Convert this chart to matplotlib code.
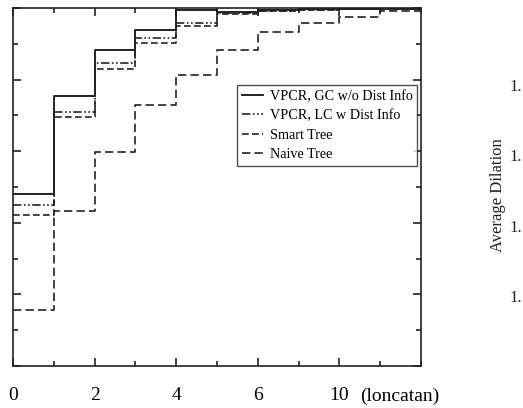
import matplotlib
matplotlib.use("Agg")
import matplotlib.pyplot as plt
import numpy as np

plt.rcParams['font.family'] = ['Liberation Serif', 'DejaVu Serif']

# cumulative fraction per jump count (value holds on [x, x+1))
steps = np.arange(0, 11)
vpcr_gc = [0.480, 0.755, 0.883, 0.939, 0.994, 0.990, 0.994, 0.996, 0.997, 0.998]
vpcr_lc = [0.450, 0.709, 0.846, 0.916, 0.958, 0.985, 0.993, 0.995, 0.997, 0.998]
smart_tree = [0.422, 0.695, 0.829, 0.902, 0.950, 0.982, 0.992, 0.995, 0.997, 0.998]
naive_tree = [0.156, 0.433, 0.598, 0.729, 0.813, 0.883, 0.933, 0.958, 0.975, 0.992]

labels = ['VPCR, GC w/o Dist Info', 'VPCR, LC w Dist Info', 'Smart Tree', 'Naive Tree']
tick_pos = [0, 2, 4, 6, 8]
tick_text = ['0', '2', '4', '6', '10']

fig = plt.figure(figsize=(5.23, 4.08), dpi=100)
ax = fig.add_axes([13 / 523, 1 - 366 / 408, 408 / 523, 358 / 408])


def ext(v):
    return list(v) + [v[-1]]


ax.plot(steps, ext(vpcr_gc), color='#111111', lw=1.3, drawstyle='steps-post',
        label=labels[0])
ax.plot(steps, ext(vpcr_lc), color='#222222', lw=1.2, drawstyle='steps-post',
        dashes=(5, 1.5, 1, 1.5, 1, 1.5), label=labels[1])
ax.plot(steps, ext(smart_tree), color='#222222', lw=1.2, drawstyle='steps-post',
        dashes=(4, 2), label=labels[2])
ax.plot(steps, ext(naive_tree), color='#222222', lw=1.2, drawstyle='steps-post',
        dashes=(5, 2.5), label=labels[3])

ax.set_xlim(0, 10)
ax.set_ylim(0, 1)

ax.set_xticks(tick_pos)
ax.set_xticklabels(tick_text)
ax.set_xticks(np.arange(0, 11, 1), minor=True)
ax.set_yticks(np.arange(0, 1.01, 0.2))
ax.set_yticks(np.arange(0, 1.01, 0.1), minor=True)
ax.set_yticklabels([])
ax.tick_params(which='both', direction='in', top=True, right=True, color='#222222')
ax.tick_params(which='major', length=6, width=1.2, labelsize=14, pad=15)
ax.tick_params(which='minor', length=3.5, width=1.2)
for s in ax.spines.values():
    s.set_linewidth(1.2)
    s.set_color('#222222')

ax.text(360 / 523, 1 - 396 / 408, '(loncatan)', fontsize=14, ha='left', va='center',
        transform=fig.transFigure)

leg = ax.legend(loc='upper left', bbox_to_anchor=(0.549, 0.785), fontsize=10.2,
                frameon=True, fancybox=False, handlelength=1.5, handletextpad=0.45,
                labelspacing=0.45, borderpad=0.35, borderaxespad=0)
leg.get_frame().set_edgecolor('#222222')
leg.get_frame().set_linewidth(1.0)

# fragment of the neighbouring panel
fig.text(498 / 523, 1 - 195 / 408, 'Average Dilation', rotation=90, fontsize=12,
         ha='center', va='center', color='#222222')
for yy in [87, 157, 228, 298]:
    fig.text(509 / 523, 1 - yy / 408, '1.', fontsize=12, ha='left', va='center',
             color='#222222')

fig.savefig('out.png', dpi=100)
